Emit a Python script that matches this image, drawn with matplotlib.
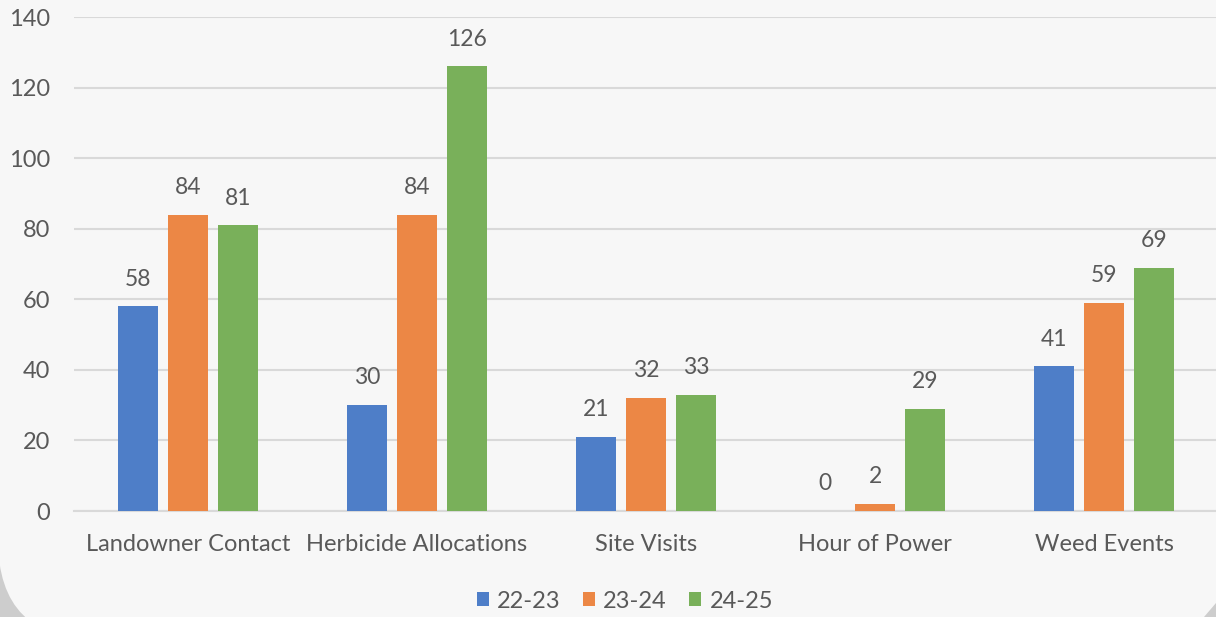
import numpy as np
import matplotlib.pyplot as plt
from matplotlib.patches import FancyBboxPatch, Polygon

# data
categories = ['Landowner Contact', 'Herbicide Allocations', 'Site Visits',
              'Hour of Power', 'Weed Events']
series = ['22-23', '23-24', '24-25']
v_2223 = [58, 30, 21, 0, 41]
v_2324 = [84, 84, 32, 2, 59]
v_2425 = [81, 126, 33, 29, 69]

colors = ['#4e7ec8', '#ec8745', '#79b05a']
txt = '#595959'

plt.rcParams['font.family'] = ['Lato', 'DejaVu Sans']

W, H = 1216, 617
fig = plt.figure(figsize=(W / 100, H / 100), dpi=100)
fig.patch.set_facecolor('#cdcdcd')

# light rounded card behind the chart (pixel coords)
card = FancyBboxPatch((-2, -23), W + 400, H + 400,
                      boxstyle='round,pad=0,rounding_size=100',
                      transform=None, facecolor='#f7f7f7', edgecolor='none',
                      zorder=0)
fig.patches.append(card)
corner = Polygon([(W - 12, 0), (W, 0), (W, 14)], closed=True,
                 transform=None, facecolor='#cdcdcd', edgecolor='none', zorder=1)
fig.patches.append(corner)

ax = fig.add_axes([73.5 / W, 1 - 511 / H, (1218.5 - 73.5) / W, (511 - 17) / H])
ax.set_facecolor('none')
ax.set_zorder(5)

x = np.arange(len(categories))
bw = 0.175
step = 0.218
for i, (vals, name) in enumerate(zip([v_2223, v_2324, v_2425], series)):
    pos = x + (i - 1) * step
    ax.bar(pos, vals, width=bw, color=colors[i], label=name, zorder=3)
    for p, v in zip(pos, vals):
        ax.annotate(str(v), (p, v), xytext=(0, 12), textcoords='offset points',
                    ha='center', va='bottom', fontsize=16.5, color=txt)

ax.set_xlim(-0.5, len(categories) - 0.5)
ax.set_ylim(0, 140)
ax.set_yticks(range(0, 141, 20))
ax.yaxis.grid(True, color='#d9d9d9', linewidth=1.5)
ax.set_axisbelow(True)
for s in ['top', 'right', 'left']:
    ax.spines[s].set_visible(False)
ax.spines['bottom'].set_color('#d9d9d9')
ax.spines['bottom'].set_linewidth(1.5)
ax.set_xticks(x)
ax.set_xticklabels(categories)
ax.tick_params(axis='both', length=0, labelsize=17, colors=txt)
ax.tick_params(axis='y', pad=17)
ax.tick_params(axis='x', pad=16.5)

leg = fig.legend(loc='center', bbox_to_anchor=(625 / W, 1 - 601 / H), ncol=3,
                 frameon=False, fontsize=17, handlelength=0.5, handleheight=0.5,
                 handletextpad=0.35, columnspacing=0.95, labelcolor=txt)
leg.set_zorder(6)

plt.savefig('out.png', dpi=100, facecolor=fig.get_facecolor())
